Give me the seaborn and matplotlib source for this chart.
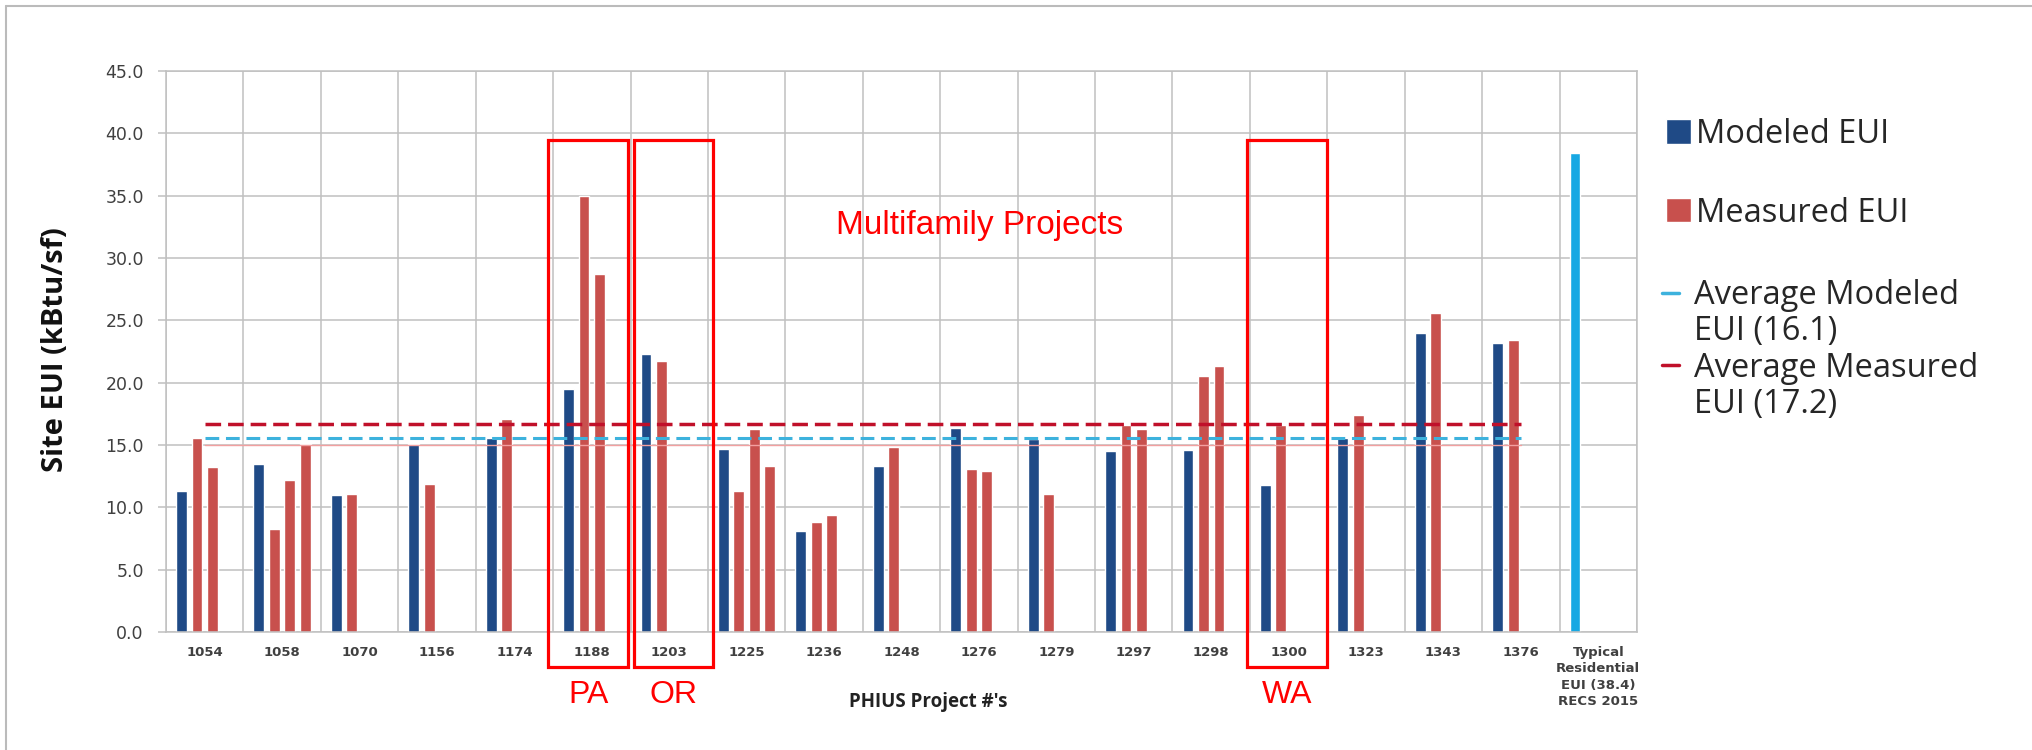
import numpy as np
import pandas as pd
import matplotlib
matplotlib.use("Agg")
import matplotlib.pyplot as plt
import seaborn as sns
from matplotlib.patches import Patch, Rectangle
from matplotlib.lines import Line2D
from matplotlib.ticker import MultipleLocator, FixedLocator, FormatStrFormatter

# ---------------- data ----------------
projects = ["1054", "1058", "1070", "1156", "1174", "1188", "1203", "1225", "1236",
            "1248", "1276", "1279", "1297", "1298", "1300", "1323", "1343", "1376"]
typical_label = "Typical\nResidential\nEUI (38.4)\nRECS 2015"

modeled_eui = [11.3, 13.5, 11.0, 15.1, 15.6, 19.5, 22.3, 14.7, 8.1,
               13.3, 16.4, 15.5, 14.5, 14.6, 11.8, 15.6, 24.0, 23.2]
measured_eui_1 = [15.6, 8.3, 11.1, 11.9, 17.1, 35.0, 21.7, 11.3, 8.8,
                  14.8, 13.1, 11.1, 16.6, 20.5, 16.6, 17.4, 25.6, 23.4]
measured_eui_2 = [13.2, 12.2, None, None, None, 28.7, None, 16.3, 9.4,
                  None, 12.9, None, 16.3, 21.3, None, None, None, None]
measured_eui_3 = [None, 15.1, None, None, None, None, None, 13.3, None,
                  None, None, None, None, None, None, None, None, None]
typical_eui = 38.4

avg_modeled_line = 15.6
avg_measured_line = 16.7
reference_line = 15.0

# state label -> (project, box left offset, box right offset)
boxed_projects = {"PA": ("1188", -0.56, 0.465),
                  "OR": ("1203", -0.45, 0.57),
                  "WA": ("1300", -0.54, 0.49)}

# ---------------- style ----------------
BLUE = "#1F4A86"
RED = "#C8504D"
LIGHTBLUE = "#17A8E3"
AVG_BLUE = "#3DB2DD"
AVG_RED = "#C0102A"
GRID = "#C0C0C0"
TXT = "#404040"

sns.set_style("white")
plt.rcParams["font.family"] = ["DejaVu Sans"]

slots = ["Modeled EUI", "Measured EUI 1", "Measured EUI 2", "Measured EUI 3"]
series = [modeled_eui, measured_eui_1, measured_eui_2, measured_eui_3]
rows = []
for i, p in enumerate(projects):
    for slot, vals in zip(slots, series):
        if vals[i] is not None:
            rows.append((p, slot, vals[i]))
rows.append((typical_label, slots[0], typical_eui))
df = pd.DataFrame(rows, columns=["project", "slot", "eui"])
order = projects + [typical_label]

fig = plt.figure(figsize=(20.32, 7.5), dpi=100)
ax = fig.add_axes([166 / 2032, 1 - 632 / 750, (1637 - 166) / 2032, (632 - 71) / 750])

sns.barplot(data=df, x="project", y="eui", hue="slot", order=order, hue_order=slots,
            palette={slots[0]: BLUE, slots[1]: RED, slots[2]: RED, slots[3]: RED},
            width=0.8, gap=0.3, errorbar=None, legend=False, saturation=1, ax=ax)
# the typical-residential reference bar is drawn in light blue
for patch in ax.patches:
    if patch.get_x() > len(projects) - 0.5:
        patch.set_facecolor(LIGHTBLUE)

xs = np.arange(len(projects))
ax.plot(xs, [reference_line] * len(projects), color="#F2A0A0", lw=1.0, zorder=1.5)
ax.plot(xs, [avg_modeled_line] * len(projects), color=AVG_BLUE, lw=2.2,
        dashes=(4.5, 2.2), zorder=3)
ax.plot(xs, [avg_measured_line] * len(projects), color=AVG_RED, lw=2.5,
        dashes=(4.5, 2.0), zorder=3)

ax.set_xlim(-0.5, len(order) - 0.5)
ax.set_ylim(0, 45)
ax.yaxis.set_major_locator(MultipleLocator(5))
ax.yaxis.set_major_formatter(FormatStrFormatter("%.1f"))
ax.set_xticks(range(len(order)))
ax.set_xticklabels(order)
ax.xaxis.set_minor_locator(FixedLocator(np.arange(-0.5, len(order), 1.0)))
ax.tick_params(axis="x", which="major", length=0, pad=10, labelsize=9.5, labelcolor=TXT)
ax.tick_params(axis="x", which="minor", length=6, color=GRID, width=1.1)
ax.tick_params(axis="y", which="major", length=6, color=GRID, width=1.1, pad=10,
               labelsize=12.5, labelcolor=TXT, left=True)
for t in ax.get_xticklabels():
    t.set_fontweight("bold")
    t.set_linespacing(1.35)
ax.grid(axis="y", which="major", color=GRID, lw=1.1)
ax.grid(axis="x", which="minor", color=GRID, lw=1.1)
ax.grid(axis="x", which="major", visible=False)
ax.set_axisbelow(True)
for s in ax.spines.values():
    s.set_visible(True)
    s.set_color(GRID)
    s.set_linewidth(1.1)

ax.set_xlabel("")
ax.set_ylabel("Site EUI (kBtu/sf)", fontsize=21, fontweight="bold", family="Open Sans",
              color="#111111")
ax.yaxis.set_label_coords((70 - 166) / 1471, 0.503)
fig.text(928 / 2032, 1 - 702 / 750, "PHIUS Project #'s", ha="center", va="center",
         fontsize=13.5, fontweight="bold", family="Open Sans", color="#222222")

# annotations
ax.text(8.16, 31.9, "Multifamily Projects", color="red", fontsize=24,
        family="Liberation Sans", ha="left", va="baseline")
xt = ax.get_xaxis_transform()
box_bottom, box_top = -0.0624, (632 - 140) / 561
for state, (proj, lo, hi) in boxed_projects.items():
    c = projects.index(proj)
    ax.add_patch(Rectangle((c + lo, box_bottom), hi - lo, box_top - box_bottom, transform=xt,
                           fill=False, ec="red", lw=2.3, clip_on=False, zorder=5))
    ax.text(c + (lo + hi) / 2, -0.112, state, transform=xt, color="red", fontsize=23,
            family="Liberation Sans", ha="center", va="center")

# legends
LEG_FS = 23.5
leg1 = fig.legend(handles=[Patch(fc=BLUE), Patch(fc=RED)],
                  labels=["Modeled EUI", "Measured EUI"],
                  loc="upper left", bbox_to_anchor=(1666 / 2032, 1 - 118 / 750),
                  frameon=False, prop={"family": "Open Sans", "size": LEG_FS},
                  handlelength=0.77, handleheight=0.77, handletextpad=0.14,
                  labelspacing=1.4, borderpad=0, borderaxespad=0, labelcolor="#262626")
blank = Line2D([], [], color="none")
leg2 = fig.legend(handles=[Line2D([], [], color=AVG_BLUE, lw=2.5), blank,
                           Line2D([], [], color=AVG_RED, lw=2.5), blank],
                  labels=["Average Modeled", "EUI (16.1)", "Average Measured", "EUI (17.2)"],
                  loc="upper left", bbox_to_anchor=(1662 / 2032, 1 - 279 / 750),
                  frameon=False, prop={"family": "Open Sans", "size": LEG_FS},
                  handlelength=0.53, handletextpad=0.46, labelspacing=0.1,
                  borderpad=0, borderaxespad=0, labelcolor="#262626")

# outer frame
fig.add_artist(Line2D([6 / 2032, 1], [1 - 6 / 750] * 2, transform=fig.transFigure,
                      color="#BBBBBB", lw=1.5))
fig.add_artist(Line2D([6 / 2032] * 2, [0, 1 - 6 / 750], transform=fig.transFigure,
                      color="#BBBBBB", lw=1.5))

fig.savefig("out.png", dpi=100, facecolor="white")
